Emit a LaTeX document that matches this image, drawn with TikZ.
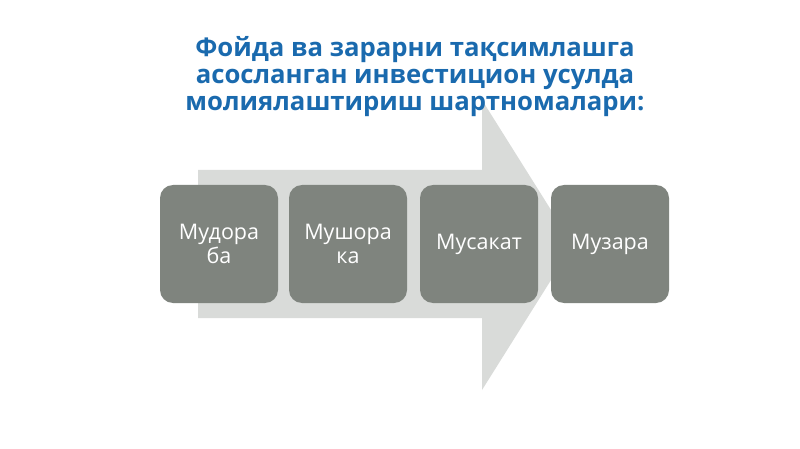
\documentclass[tikz,border=0pt]{standalone}
\usepackage{fontspec}
\setmainfont{Open Sans}
\definecolor{titleblue}{HTML}{1A6AAE}
\definecolor{boxgrey}{HTML}{7F847E}
\definecolor{arrowgrey}{HTML}{D9DBD9}
\begin{document}
\begin{tikzpicture}[x=1pt,y=-1pt,
  stagebox/.style={fill=boxgrey, rounded corners=13pt, minimum width=118pt, minimum height=118pt,
    inner sep=0pt, text=white, font=\fontsize{21.5}{24}\selectfont, align=center}]
\useasboundingbox (0,0) rectangle (800,449);
\fill[white] (0,0) rectangle (800,449);
\fill[arrowgrey] (198,170) -- (482,170) -- (482,100) -- (573,245) -- (482,390) -- (482,318) -- (198,318) -- cycle;
\node[font=\bfseries\fontsize{25.7}{27}\selectfont, text=titleblue, align=center] (title) at (415,77)
  {Фойда ва зарарни тақсимлашга\\асосланган инвестицион усулда\\молиялаштириш шартномалари:};
\node[stagebox] (b1) at (219,244) {Мудора\\ба};
\node[stagebox] (b2) at (348,244) {Мушора\\ка};
\node[stagebox] (b3) at (479,244) {Мусакат};
\node[stagebox] (b4) at (610,244) {Музара};
\end{tikzpicture}
\end{document}
